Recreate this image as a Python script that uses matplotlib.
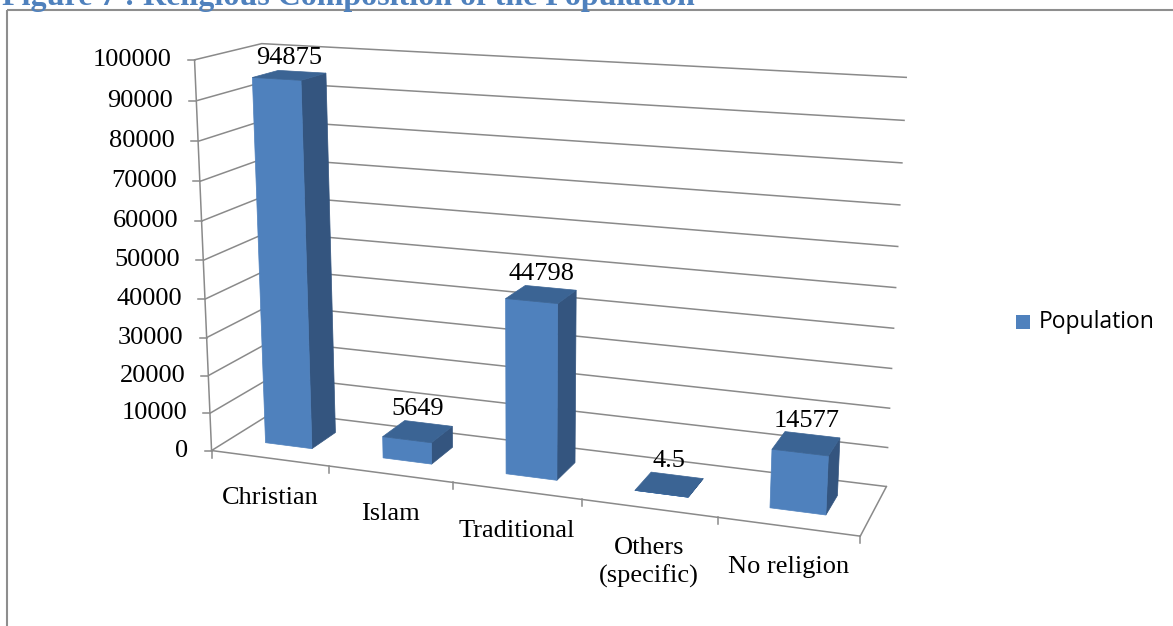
import numpy as np
import matplotlib
matplotlib.use("Agg")
import matplotlib.pyplot as plt
from matplotlib.patches import Polygon, Rectangle

# data
religions = ["Christian", "Islam", "Traditional", "Others\n(specific)", "No religion"]
population = [94875, 5649, 44798, 4.5, 14577]
value_labels = ["94875", "5649", "44798", "4.5", "14577"]
y_ticks = [0, 10000, 20000, 30000, 40000, 50000, 60000, 70000, 80000, 90000, 100000]
y_max = 100000
series_name = "Population"
title = "Figure 7 : Religious Composition of the Population"

# colours
FRONT = "#4F81BD"
SIDE = "#34557F"
TOP = "#3B6494"
GRID = "#8A8A8A"

W, H = 1173, 626
SERIF = "Liberation Serif"
FS = 19

# where the chart box corners land on the page (x = category, y = value/ymax, z = depth)
front_ticks_px = [(212, 450), (330, 467), (453, 483), (583, 500), (717, 518), (860, 536)]
left_axis_px = [(212, 450), (208, 413), (207, 375), (206, 338), (205, 299), (203, 260),
                (202, 220), (200, 181), (199, 141), (197, 101), (195, 61)]
back_right_px = [(887, 486), (888, 447), (890, 408), (892, 369), (894, 328), (896, 288),
                 (899, 247), (901, 205), (903, 163), (905, 120), (907, 77)]
back_left_px = [((0, 1, 1), (260, 44)), ((0, 0, 1), (276, 412))]

n = len(religions)
bar_w = 0.4
bar_d = 0.4


def fit_projection(world, screen):
    rows = []
    for (X, Y, Z), (u, v) in zip(world, screen):
        u, v = u / 1000.0, v / 1000.0
        rows.append([X, Y, Z, 1, 0, 0, 0, 0, -u * X, -u * Y, -u * Z, -u])
        rows.append([0, 0, 0, 0, X, Y, Z, 1, -v * X, -v * Y, -v * Z, -v])
    _, _, vt = np.linalg.svd(np.array(rows, dtype=float))
    return vt[-1].reshape(3, 4)


world, screen = [], []
for i, p in enumerate(front_ticks_px):
    world.append((i, 0, 0)); screen.append(p)
for k, p in enumerate(left_axis_px):
    world.append((0, k / 10, 0)); screen.append(p)
for k, p in enumerate(back_right_px):
    world.append((n, k / 10, 1)); screen.append(p)
for w_, p in back_left_px:
    world.append(w_); screen.append(p)
P = fit_projection(world, screen)


def proj(x, y, z):
    q = P @ np.array([x, y, z, 1.0])
    return q[0] / q[2] * 1000, q[1] / q[2] * 1000


fig = plt.figure(figsize=(W / 100, H / 100), dpi=100)
ax = fig.add_axes([0, 0, 1, 1])
ax.set_xlim(0, W)
ax.set_ylim(H, 0)
ax.axis("off")

# outer frame and caption (runs off the top of the page)
ax.add_patch(Rectangle((7, 10), 1300, 800, fill=False, ec="#8E8E8E", lw=1.5))
ax.text(2, 5, title, fontsize=23, fontweight="bold", color=FRONT, family=SERIF,
        ha="left", va="baseline")

# gridlines: side wall then back wall
for t in y_ticks:
    h = t / y_max
    pts = [proj(0, h, 0), proj(0, h, 1), proj(n, h, 1)]
    ax.plot([p[0] for p in pts], [p[1] for p in pts], color=GRID, lw=1.1, solid_capstyle="butt")

# value axis, floor edges and ticks
for a, b in [((0, 0, 0), (0, 1, 0)), ((0, 0, 0), (n, 0, 0)), ((n, 0, 0), (n, 0, 1))]:
    pa, pb = proj(*a), proj(*b)
    ax.plot([pa[0], pb[0]], [pa[1], pb[1]], color=GRID, lw=1.1)

for t in y_ticks:
    x, y = proj(0, t / y_max, 0)
    ax.plot([x - 7, x], [y, y], color=GRID, lw=1.1)
    ax.text(x - 23, y, f"{t}", fontsize=FS, family=SERIF, ha="right", va="center")

for i in range(n + 1):
    x, y = proj(i, 0, 0)
    ax.plot([x, x], [y, y + 7], color=GRID, lw=1.1)

for i, name in enumerate(religions):
    x, y = proj(i + 0.5, 0, 0)
    ax.text(x, y + 29, name, fontsize=FS, family=SERIF, ha="center", va="top",
            linespacing=1.3)

# bars
for i, v in enumerate(population):
    h = v / y_max
    x0, x1 = i + 0.5 - bar_w / 2, i + 0.5 + bar_w / 2
    z0, z1 = 0.5 - bar_d / 2, 0.5 + bar_d / 2
    faces = [
        ([(x1, 0, z0), (x1, 0, z1), (x1, h, z1), (x1, h, z0)], SIDE),
        ([(x0, 0, z0), (x1, 0, z0), (x1, h, z0), (x0, h, z0)], FRONT),
        ([(x0, h, z0), (x1, h, z0), (x1, h, z1), (x0, h, z1)], TOP),
    ]
    for corners, c in faces:
        ax.add_patch(Polygon([proj(*c3) for c3 in corners], closed=True,
                             fc=c, ec=c, lw=0.5, zorder=3))
    lx, _ = proj(i + 0.5, h, 0.5)
    _, ly = proj(i + 0.5, h, z1)
    ax.text(lx, ly - 8, value_labels[i], fontsize=FS, family=SERIF,
            ha="center", va="baseline", zorder=4)

# legend
ax.add_patch(Rectangle((1016, 315), 14, 14, fc=FRONT, ec="none"))
ax.text(1039, 322, series_name, fontsize=16.5, family="Open Sans", ha="left", va="center")

fig.savefig("out.png", dpi=100)
